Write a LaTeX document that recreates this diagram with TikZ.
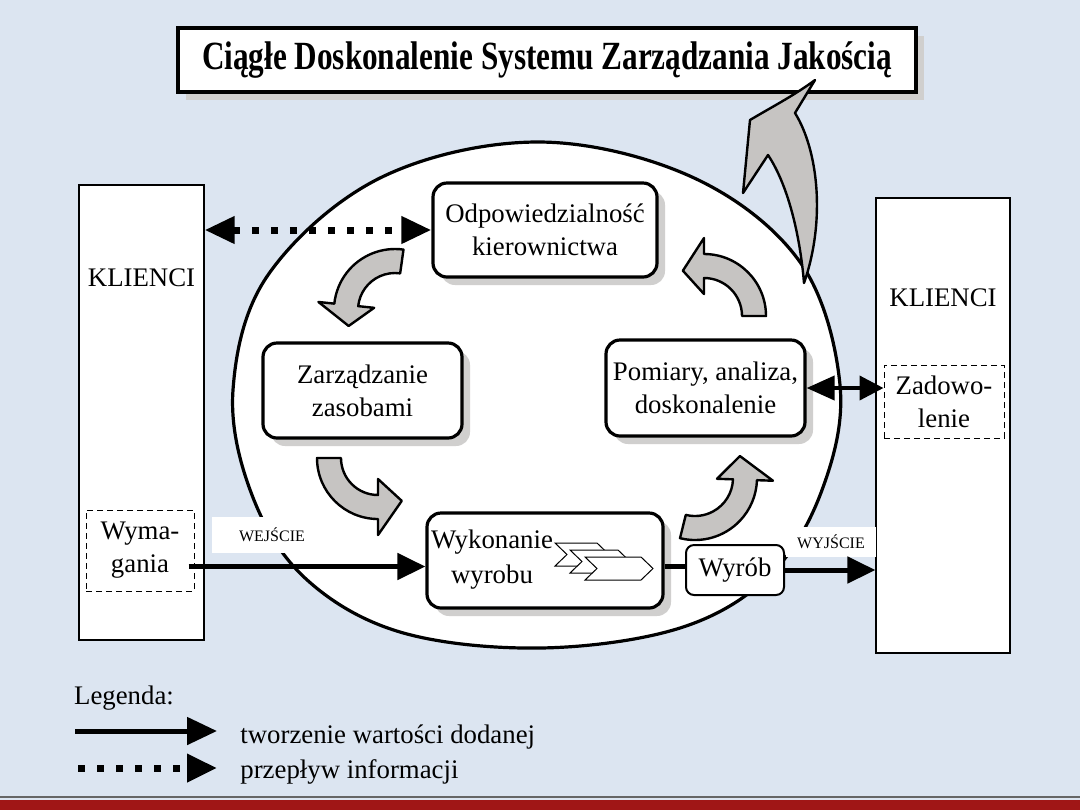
\documentclass[tikz,border=0pt]{standalone}
\usepackage{fontspec}
\usepackage{graphicx}
\setmainfont{Liberation Serif}
\usetikzlibrary{arrows.meta,positioning,shadows}

\definecolor{tlo}{RGB}{220,229,241}
\definecolor{cien}{RGB}{208,207,206}
\definecolor{strz}{RGB}{198,196,194}
\definecolor{czerwien}{RGB}{160,22,22}

\tikzset{
  napis/.style={font=\fontsize{13.4}{16.5}\selectfont, align=center, inner sep=1.5pt},
  etap/.style={draw, line width=1.6pt, rounded corners=7pt, fill=white, napis, inner sep=1pt,
    drop shadow={shadow xshift=4pt, shadow yshift=-4pt, fill=cien, opacity=1}},
  tytul/.style={draw, line width=2pt, fill=white, minimum width=369pt, minimum height=32pt,
    font=\bfseries\fontsize{20}{24}\selectfont,
    drop shadow={shadow xshift=4pt, shadow yshift=-4pt, fill=cien, opacity=1}},
  klient/.style={draw, line width=0.6pt, fill=white, minimum width=62.5pt, minimum height=227.5pt},
  kropki/.style={draw, densely dashed, line width=0.5pt, napis},
  wyrobbox/.style={draw, line width=1pt, rounded corners=4pt, fill=white, napis,
    minimum width=49pt, minimum height=25pt},
  etykieta/.style={fill=white, font=\fontsize{8}{9}\selectfont, inner sep=0pt},
  wartosc/.style={line width=2.5pt, -{Triangle[length=14pt,width=13pt]}},
  info/.style={line width=3.5pt, dash pattern=on 3.5pt off 6pt,
    {Triangle[length=15pt,width=13pt]}-{Triangle[length=15pt,width=13pt]}},
  zwrot/.style={draw=black, line width=1.2pt, fill=strz, line join=round}
}

% curved block arrow: centre x, centre y, radius, tail angle, head angle, tip angle
\newcommand{\zawrot}[6]{%
  \pgfmathsetmacro\zwZ{#3+12}\pgfmathsetmacro\zwW{#3-12}%
  \pgfmathsetmacro\zwGZ{#3+28}\pgfmathsetmacro\zwGW{#3-28}%
  \begin{scope}[shift={(#1,#2)}]
    \draw[zwrot] (#4:\zwZ) arc[start angle=#4, end angle=#5, radius=\zwZ]
      -- (#5:\zwGZ) -- (#6:#3) -- (#5:\zwGW) -- (#5:\zwW)
      arc[start angle=#5, end angle=#4, radius=\zwW] -- cycle;
  \end{scope}}

% small chevron inside the production box
\newcommand{\szewron}[3]{%
  \draw[fill=white, line width=0.5pt] (#1,#2) -- ++(#3,0) -- ++(12,11.5) -- ++(-12,11.5)
    -- ++(-#3,0) -- ++(12,-11.5) -- cycle;}

\begin{document}
\begin{tikzpicture}[x=0.5pt, y=-0.5pt]
\fill[tlo] (0,0) rectangle (1080,810);
\useasboundingbox (0,0) rectangle (1080,810);
\fill[czerwien] (0,800) rectangle (1080,810);
\draw[black!60, line width=1pt] (0,797) -- (1080,797);

% title
\node[tytul] (tyt) at (547,60) {\scalebox{0.78}[1]{Ciągłe Doskonalenie Systemu Zarządzania Jakością}};

% customers
\node[klient] (kl1) at (141.5,412.5) {};
\node[klient, minimum width=67pt] (kl2) at (943,425.5) {};
\node[napis] at ([yshift=-46.5pt]kl1.north) {KLIENCI};
\node[napis] at ([yshift=-50pt]kl2.north) {KLIENCI};
\node[kropki, minimum width=54pt, minimum height=40.5pt] (wym) at (140,550.5) {Wyma-\\gania};
\node[kropki, minimum width=60pt, minimum height=36.5pt] (zad) at (944,401.5) {Zadowo-\\lenie};

% process circle
\draw[line width=1.6pt, fill=white] plot[smooth cycle, tension=0.6] coordinates {
  (537,142) (692,177) (800,262) (840,385) (822,490) (770,575) (680,628)
  (540,648) (400,632) (305,578) (252,495) (233,390) (268,275) (380,178)};

% labels on the borders
\node[etykieta, minimum width=60pt, minimum height=18pt] (wej) at (272,535) {WEJŚCIE};
\node[etykieta, minimum width=45pt, minimum height=15pt] (wyj) at (831,542) {WYJŚCIE};

% process steps
\node[etap, minimum width=112pt, minimum height=47pt] (odp) at (545,230) {Odpowiedzialność\\kierownictwa};
\node[etap, minimum width=99.5pt, minimum height=47.5pt] (zar) at (362.5,390.5) {Zarządzanie\\zasobami};
\node[etap, minimum width=99.5pt, minimum height=48pt] (pom) at (705.5,388) {Pomiary, analiza,\\doskonalenie};
\node[etap, minimum width=118pt, minimum height=47.5pt] (wyk) at (545,560.5) {};
\szewron{555}{543}{42}
\szewron{570}{550}{48}
\szewron{585}{557}{56}
\node[napis] (wyktxt) at (492,560) {Wykonanie\\[1pt]wyrobu};
\node[wyrobbox] (wyr) at (735,570) {Wyrób};

% cycle arrows
\zawrot{395}{310}{49}{-82}{-174}{-199}
\zawrot{378}{458}{49}{180}{90}{61}
\zawrot{695}{478}{50}{104}{2}{-26}
\zawrot{704}{316}{50}{0}{-90}{-115}

% improvement arrow
\draw[zwrot] (804,283) .. controls (826,220) and (818,150) .. (795,113) -- (815,80)
  .. controls (795,95) and (770,108) .. (750,120) -- (743,193) -- (768,155)
  .. controls (788,185) and (800,235) .. (804,283) -- cycle;

% flows
\draw[wartosc] ([yshift=-8pt, xshift=-3pt]wym.east) -- ([yshift=-3pt]wyk.west);
\draw[line width=2.5pt] ([yshift=-3pt]wyk.east) -- ([yshift=-3pt]wyk.east -| wyr.west);
\draw[wartosc] (wyr.east) -- (wyr.east -| kl2.west);
\draw[info] (kl1.east |- odp.west) -- (odp.west);
\draw[line width=2pt, {Triangle[length=14pt,width=12pt]}-{Triangle[length=12pt,width=12pt]}]
  (pom.east) -- (pom.east -| zad.west);

% legend
\node[napis] (leg) at (124,698) {Legenda:};
\coordinate (l1a) at (75,731);
\coordinate (l1b) at (217,731);
\coordinate (l2a) at (78,768);
\coordinate (l2b) at (217,768);
\draw[line width=2.5pt, -{Triangle[length=15pt,width=13.5pt]}] (l1a) -- (l1b);
\draw[line width=3.5pt, dash pattern=on 3.5pt off 6pt, -{Triangle[length=15pt,width=13.5pt]}] (l2a) -- (l2b);
\node[napis, right=10pt of l1b, yshift=-3pt] (leg1) {tworzenie wartości dodanej};
\node[napis, right=10pt of l2b, yshift=-2pt] (leg2) {przepływ informacji};
\end{tikzpicture}
\end{document}
